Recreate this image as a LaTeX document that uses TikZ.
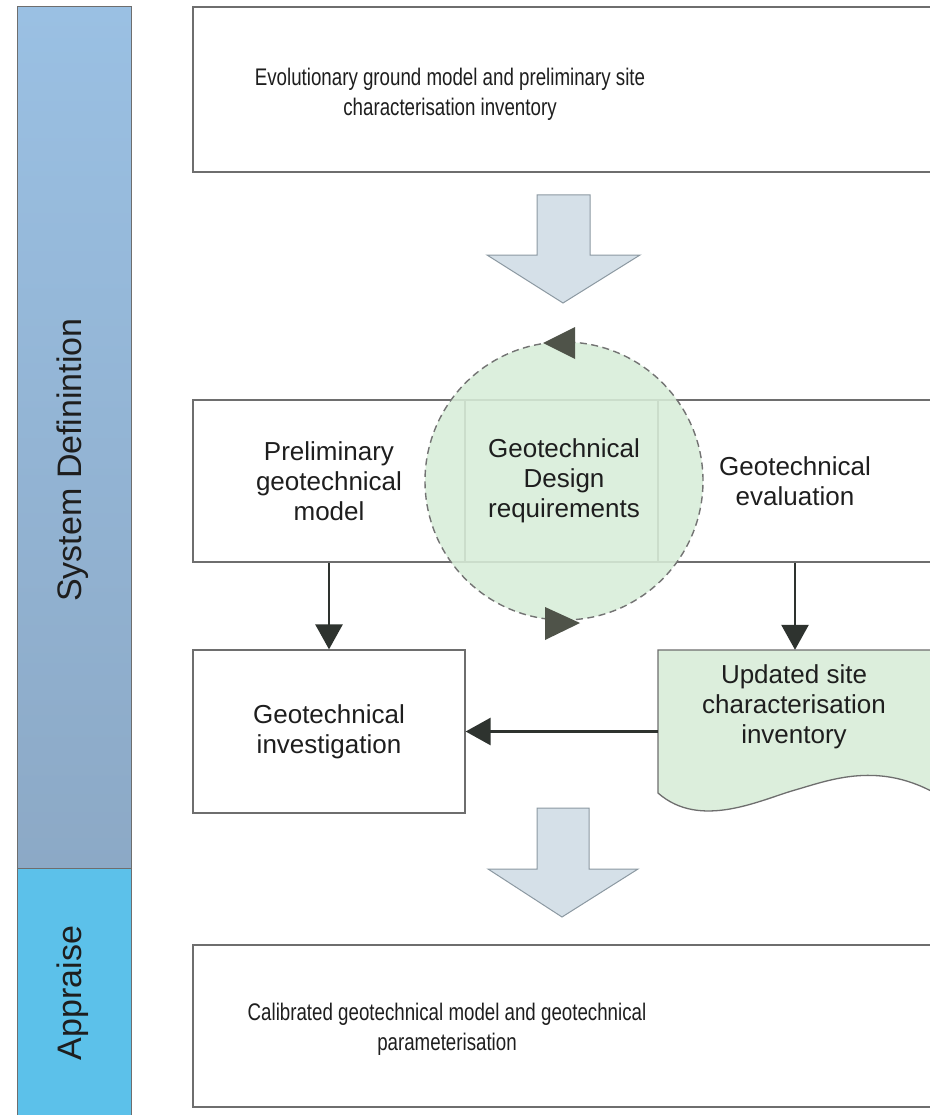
\documentclass[tikz,border=0pt]{standalone}
\usepackage{fontspec}
\setmainfont{Liberation Sans}
\newfontfamily\nrw{Liberation Sans}[FakeStretch=0.78]
\usetikzlibrary{arrows.meta}
\definecolor{sdblue}{HTML}{9AC0E3}
\definecolor{sdblue2}{HTML}{8CA9C6}
\definecolor{apblue}{HTML}{5CC1EA}
\definecolor{bordergray}{HTML}{6E6E6E}
\definecolor{arrowfill}{HTML}{D5E0E8}
\definecolor{arrowedge}{HTML}{8C99A2}
\definecolor{circfill}{HTML}{D8EDD9}
\definecolor{docfill}{HTML}{DCEEDC}
\definecolor{headcol}{HTML}{4F5349}
\definecolor{linecol}{HTML}{2E332F}
\definecolor{txt}{HTML}{1E1E1E}
\begin{document}
\begin{tikzpicture}[x=1pt,y=-1pt,
  box/.style={draw=bordergray, line width=1.3pt, fill=white, inner sep=0pt},
  mtext/.style={align=center, font=\fontsize{26}{30}\selectfont, text=txt},
  wtext/.style={align=center, font=\nrw\fontsize{24}{30}\selectfont, text=txt},
  sidetext/.style={rotate=90, font=\fontsize{34}{40}\selectfont, text=txt},
  flow/.style={draw=linecol, line width=2.8pt, -{Triangle[length=25pt,width=27pt]}},
  blockarrow/.style={fill=arrowfill, draw=arrowedge, line width=1pt, line join=miter},
]
\useasboundingbox (0,0) rectangle (929,1115);
\fill[white] (0,0) rectangle (929,1115);

% sidebar
\node[rectangle, minimum width=114pt, minimum height=861pt, top color=sdblue, bottom color=sdblue2,
      draw=bordergray, line width=1pt, inner sep=0pt] (sd) at (74,437.5) {};
\node[sidetext] (sdt) at (73,460) {System Definintion};
\node[rectangle, minimum width=114pt, minimum height=252pt, fill=apblue,
      draw=bordergray, line width=1pt, inner sep=0pt] (ap) at (74,994) {};
\node[sidetext] (apt) at (73,993) {Appraise};

% top box
\node[box, minimum width=739pt, minimum height=165pt] (top) at (562.5,89.5) {};
\node[wtext] (toptext) at (450,94) {Evolutionary ground model and preliminary site\\characterisation inventory};

% block arrow 1
\draw[blockarrow] (537,195) -- (590,195) -- (590,255) -- (640,255) -- (563,303) -- (487,255) -- (537,255) -- cycle;

% middle row
\node[box, mtext, minimum width=272pt, minimum height=162pt] (pgm) at (329,481) {Preliminary\\geotechnical\\model};
\node[box, minimum width=193pt, minimum height=162pt] (mid) at (561.5,481) {};
\node[box, mtext, minimum width=274pt, minimum height=162pt] (ge) at (795,481) {Geotechnical\\evaluation};

% circle
\node[circle, draw=black!55, dash pattern=on 7pt off 4.5pt, line width=1.4pt, fill=circfill,
      fill opacity=0.88, text opacity=1, minimum size=278pt, mtext] (gdr) at (564,481)
      {Geotechnical\\Design\\requirements};
\fill[headcol] (543,343) -- (575,327) -- (575,359) -- cycle;
\fill[headcol] (580,623) -- (545,607) -- (545,640) -- cycle;

% lower row
\node[box, mtext, minimum width=272pt, minimum height=163pt] (inv) at (329,731.5) {Geotechnical\\investigation};
\draw[draw=bordergray, line width=1.3pt, fill=docfill] (658,650) -- (940,650) -- (940,796)
   .. controls (880,760) and (830,780) .. (795,790)
   .. controls (760,800) and (700,830) .. (658,793) -- cycle;
\node[minimum width=274pt, minimum height=163pt, inner sep=0pt] (usi) at (795,731.5) {};
\node[mtext] (usit) at (794,707) {Updated site\\characterisation\\inventory};

% connectors
\draw[flow] (pgm.south) -- (inv.north);
\draw[flow] (ge.south) -- (usi.north);
\draw[flow] (usi.west) -- (inv.east);

% block arrow 2
\draw[blockarrow] (537,808) -- (589,808) -- (589,869) -- (638,869) -- (562,917) -- (488,869) -- (537,869) -- cycle;

% bottom box
\node[box, minimum width=739pt, minimum height=162pt] (bot) at (562.5,1026) {};
\node[wtext] (bottext) at (447,1029) {Calibrated geotechnical model and geotechnical\\parameterisation};
\end{tikzpicture}
\end{document}
